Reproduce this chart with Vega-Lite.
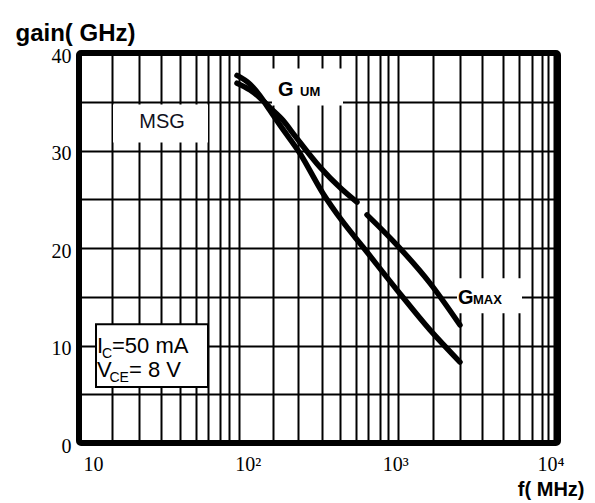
{
  "$schema": "https://vega.github.io/schema/vega-lite/v6.json",
  "width": 479,
  "height": 390,
  "autosize": {"type": "none"},
  "padding": {"left": 79, "top": 53, "right": 37, "bottom": 60},
  "background": "white",
  "config": {
    "view": {"stroke": "black", "strokeWidth": 6, "cornerRadius": 2},
    "font": "Liberation Sans"
  },
  "datasets": {
    "boxes": [
      {"x1": 16.33, "x2": 64.27, "y1": 30.83, "y2": 34.72, "name": "MSG"},
      {"x1": 161.7, "x2": 450.2, "y1": 34.62, "y2": 38.41, "name": "GUM"},
      {"x1": 2330, "x2": 5951, "y1": 13.32, "y2": 16.9, "name": "GMAX"}
    ],
    "icbox": [
      {"x1": 12.78, "x2": 64.27, "y1": 5.74, "y2": 12.19}
    ],
    "curves": [
      {"series": "MSG", "f": 97.6, "g": 37.7},
      {"series": "MSG", "f": 117.8, "g": 36.8},
      {"series": "MSG", "f": 136.1, "g": 35.6},
      {"series": "MSG", "f": 157.1, "g": 34.1},
      {"series": "MSG", "f": 181.5, "g": 32.6},
      {"series": "MSG", "f": 242.2, "g": 29.7},
      {"series": "MSG", "f": 337.5, "g": 25.6},
      {"series": "MSG", "f": 443.8, "g": 22.8},
      {"series": "MSG", "f": 600.6, "g": 20.1},
      {"series": "MSG", "f": 980.9, "g": 15.7},
      {"series": "MSG", "f": 1578, "g": 11.6},
      {"series": "MSG", "f": 2433, "g": 8.3},
      {"series": "GUM", "f": 97.6, "g": 36.9},
      {"series": "GUM", "f": 117.8, "g": 36.2},
      {"series": "GUM", "f": 136.1, "g": 35.4},
      {"series": "GUM", "f": 157.1, "g": 34.4},
      {"series": "GUM", "f": 189.5, "g": 33.1},
      {"series": "GUM", "f": 225.3, "g": 31.5},
      {"series": "GUM", "f": 323.2, "g": 28.3},
      {"series": "GUM", "f": 431.1, "g": 26.2},
      {"series": "GUM", "f": 550.8, "g": 24.7},
      {"series": "GMAX", "f": 636.4, "g": 23.4},
      {"series": "GMAX", "f": 980.9, "g": 20.3},
      {"series": "GMAX", "f": 1578, "g": 16.4},
      {"series": "GMAX", "f": 2433, "g": 12.1}
    ],
    "msg": [{"f": 33.1, "g": 32.9, "t": "MSG"}],
    "gbig": [
      {"f": 176.3, "g": 35.6, "t": "G"},
      {"f": 2364, "g": 14.3, "t": "G"}
    ],
    "gsub": [
      {"f": 242.2, "g": 35.6, "t": "UM"},
      {"f": 2935, "g": 14.3, "t": "MAX"}
    ],
    "icmain": [
      {"f": 12.96, "g": 9.22, "t": "I"},
      {"f": 16.09, "g": 9.22, "t": "=50  mA"},
      {"f": 12.96, "g": 6.76, "t": "V"},
      {"f": 20.56, "g": 6.76, "t": "= 8 V"}
    ],
    "icsub": [
      {"f": 13.93, "g": 8.71, "t": "C"},
      {"f": 15.5, "g": 6.25, "t": "CE"}
    ]
  },
  "layer": [
    {
      "data": {"name": "boxes"},
      "mark": {"type": "rect", "fill": "white", "strokeWidth": 0},
      "encoding": {
        "x": {
          "field": "x1", "type": "quantitative",
          "scale": {"type": "log", "domain": [10, 10000], "nice": false},
          "axis": {
            "title": "f( MHz)",
            "titleFont": "Liberation Sans", "titleFontSize": 20, "titleFontWeight": "bold", "titleColor": "black",
            "titleAlign": "right", "titleAnchor": null, "titleX": 505, "titleY": 52, "titleBaseline": "alphabetic",
            "values": [10, 16.1, 23.8, 32.6, 42.9, 54.1, 64.3, 76.4, 87.0, 100, 164.1, 235.3, 332.6, 431.1, 543, 645.7, 767.8, 861.6, 1000, 1649, 2433, 3342, 4523, 5697, 6873, 7939, 8657, 9439, 10000],
            "labelExpr": "datum.value == 10 ? '10' : datum.value == 100 ? '10²' : datum.value == 1000 ? '10³' : datum.value == 10000 ? '10⁴' : ''",
            "labelFont": "Liberation Serif", "labelFontSize": 20, "labelColor": "black",
            "labelAlign": "left", "labelBaseline": "top", "labelPadding": 11,
            "labelOverlap": false, "labelFlush": false, "labelBound": false,
            "labelOffset": {"condition": [
              {"test": "datum.value == 10", "value": 4},
              {"test": "datum.value == 100", "value": -4},
              {"test": "datum.value == 1000", "value": -16}
            ], "value": -21},
            "ticks": false, "domain": false,
            "grid": true, "gridColor": "black", "gridWidth": 2, "gridOpacity": 1
          }
        },
        "x2": {"field": "x2"},
        "y": {
          "field": "y1", "type": "quantitative",
          "scale": {"domain": [0, 40], "nice": false, "zero": false},
          "axis": {
            "title": "gain( GHz)",
            "titleFont": "Liberation Sans", "titleFontSize": 24, "titleFontWeight": "bold", "titleColor": "black",
            "titleAngle": 0, "titleAlign": "left", "titleAnchor": null, "titleX": -64, "titleY": -13, "titleBaseline": "alphabetic",
            "values": [0, 5, 10, 15, 20, 25, 30, 35, 40],
            "labelExpr": "datum.value % 10 == 0 ? datum.label : ''",
            "labelFont": "Liberation Serif", "labelFontSize": 20, "labelColor": "black",
            "labelPadding": 8, "labelBaseline": "middle", "labelOffset": 3,
            "labelOverlap": false, "labelFlush": false, "labelBound": false,
            "ticks": false, "domain": false,
            "grid": true, "gridColor": "black", "gridWidth": 2, "gridOpacity": 1
          }
        },
        "y2": {"field": "y2"}
      }
    },
    {
      "data": {"name": "icbox"},
      "mark": {"type": "rect", "fill": "white", "stroke": "black", "strokeWidth": 2},
      "encoding": {
        "x": {"field": "x1", "type": "quantitative"},
        "x2": {"field": "x2"},
        "y": {"field": "y1", "type": "quantitative"},
        "y2": {"field": "y2"}
      }
    },
    {
      "data": {"name": "curves"},
      "mark": {"type": "line", "color": "black", "strokeWidth": 5.5, "strokeCap": "round", "interpolate": "monotone"},
      "encoding": {
        "x": {"field": "f", "type": "quantitative"},
        "y": {"field": "g", "type": "quantitative"},
        "detail": {"field": "series"}
      }
    },
    {
      "data": {"name": "msg"},
      "mark": {"type": "text", "font": "Liberation Sans", "fontSize": 20, "align": "center", "baseline": "middle", "color": "#111122"},
      "encoding": {
        "x": {"field": "f", "type": "quantitative"},
        "y": {"field": "g", "type": "quantitative"},
        "text": {"field": "t"}
      }
    },
    {
      "data": {"name": "gbig"},
      "mark": {"type": "text", "font": "Liberation Sans", "fontSize": 20, "fontWeight": "bold", "align": "left", "baseline": "alphabetic", "color": "black"},
      "encoding": {
        "x": {"field": "f", "type": "quantitative"},
        "y": {"field": "g", "type": "quantitative"},
        "text": {"field": "t"}
      }
    },
    {
      "data": {"name": "gsub"},
      "mark": {"type": "text", "font": "Liberation Sans", "fontSize": 13, "fontWeight": "bold", "align": "left", "baseline": "alphabetic", "color": "black"},
      "encoding": {
        "x": {"field": "f", "type": "quantitative"},
        "y": {"field": "g", "type": "quantitative"},
        "text": {"field": "t"}
      }
    },
    {
      "data": {"name": "icmain"},
      "mark": {"type": "text", "font": "Liberation Sans", "fontSize": 22, "align": "left", "baseline": "alphabetic", "color": "black"},
      "encoding": {
        "x": {"field": "f", "type": "quantitative"},
        "y": {"field": "g", "type": "quantitative"},
        "text": {"field": "t"}
      }
    },
    {
      "data": {"name": "icsub"},
      "mark": {"type": "text", "font": "Liberation Sans", "fontSize": 14, "align": "left", "baseline": "alphabetic", "color": "black"},
      "encoding": {
        "x": {"field": "f", "type": "quantitative"},
        "y": {"field": "g", "type": "quantitative"},
        "text": {"field": "t"}
      }
    }
  ]
}
